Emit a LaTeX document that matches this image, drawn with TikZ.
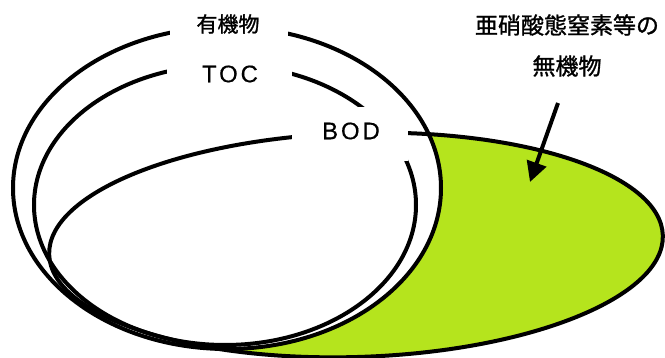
\documentclass[tikz,border=0pt]{standalone}
\usepackage{fontspec}
\setmainfont{Liberation Sans}
\newfontfamily\jp{Noto Sans CJK JP}[FakeBold=1.2]
\usetikzlibrary{arrows.meta}
\definecolor{limefill}{RGB}{181,228,29}
\begin{document}
\begin{tikzpicture}[x=1pt,y=-1pt,line width=4pt,
  ring/.style={draw=black,line width=4pt},
  labelbox/.style={fill=white,draw=none,inner sep=0pt},
  jplabel/.style={font=\jp\fontsize{21pt}{24pt}\selectfont,inner sep=0pt},
  latlabel/.style={font=\fontsize{24pt}{28pt}\selectfont\addfontfeature{LetterSpace=12,FakeBold=0.4},inner sep=0pt},
  pointer/.style={line width=4pt,-{Triangle[length=20pt,width=20pt]}}]
\useasboundingbox (0,0) rectangle (665,358);
% green BOD ellipse, minus the organic-matter ellipse
\fill[limefill,rotate around={1.8:(356,245)}] (356,245) ellipse [x radius=307pt, y radius=112pt];
\fill[white] (227,188) ellipse [x radius=214pt, y radius=161pt];
% outlines
\draw[ring] (227,188) ellipse [x radius=214pt, y radius=161pt];
\draw[ring] (225,205) ellipse [x radius=191pt, y radius=140pt];
\draw[ring,rotate around={1.8:(356,245)}] (356,245) ellipse [x radius=307pt, y radius=112pt];
% label boxes
\node[labelbox,minimum width=118pt,minimum height=30pt] (b1) at (229,24) {};
\node[labelbox,minimum width=125pt,minimum height=30pt] (b2) at (229.5,74) {};
\node[labelbox,minimum width=116pt,minimum height=54pt] (b3) at (350,134) {};
\node[jplabel] (organic) at (228,24) {有機物};
\node[latlabel] (toc) at (230,74) {TOC};
\node[latlabel] (bod) at (351,131) {BOD};
\node[jplabel,font=\jp\fontsize{23pt}{26pt}\selectfont] (inorg1) at (567,25) {亜硝酸態窒素等の};
\node[jplabel,font=\jp\fontsize{23pt}{26pt}\selectfont] (inorg2) at (567,66) {無機物};
\coordinate (atail) at (558,103);
\coordinate (ahead) at (530,182);
\draw[pointer] (atail) -- (ahead);
\end{tikzpicture}
\end{document}
